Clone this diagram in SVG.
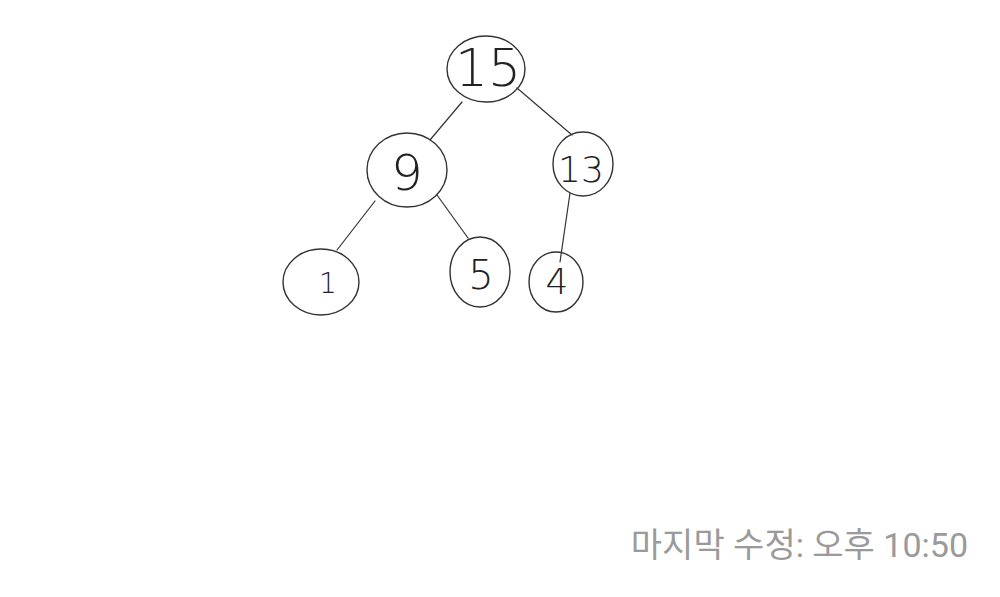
<svg xmlns="http://www.w3.org/2000/svg" width="1000" height="597" viewBox="0 0 1000 597">
<style>
.n ellipse{fill:none;stroke:#333;stroke-width:1.4}
.n text{font-family:"DejaVu Sans","Liberation Sans",sans-serif;font-weight:200;fill:#222;text-anchor:middle}
#edges line{stroke:#333;stroke-width:1.2;stroke-linecap:round}
.cap{font-family:Roboto,"Noto Sans CJK KR",sans-serif;font-size:34px;fill:#9a9a9a;text-anchor:end}
</style>
<rect width="1000" height="597" fill="#fff"/>
<g id="edges">
<line x1="462" y1="102" x2="430" y2="140"/>
<line x1="517" y1="88" x2="572" y2="135"/>
<line x1="375" y1="201" x2="337" y2="250"/>
<line x1="437" y1="195" x2="468" y2="238"/>
<line x1="570" y1="193" x2="560" y2="262"/>
</g>
<g id="n15" class="n"><ellipse cx="486" cy="69" rx="39" ry="33"/><text x="488" y="86" font-size="52">15</text></g>
<g id="n9" class="n"><ellipse cx="407" cy="170" rx="40" ry="37"/><text x="407" y="190" font-size="50">9</text></g>
<g id="n13" class="n"><ellipse cx="583" cy="164" rx="30" ry="32"/><text x="581" y="182" font-size="36">13</text></g>
<g id="n1" class="n"><ellipse cx="321" cy="282" rx="38" ry="33"/><text x="328" y="293" font-size="28">1</text></g>
<g id="n5" class="n"><ellipse cx="480" cy="272" rx="30" ry="35"/><text x="481" y="289" font-size="40">5</text></g>
<g id="n4" class="n"><ellipse cx="556" cy="282" rx="27" ry="30"/><text x="557" y="294" font-size="36">4</text></g>
<text class="cap" x="968" y="557">마지막 수정: 오후 10:50</text>
</svg>
